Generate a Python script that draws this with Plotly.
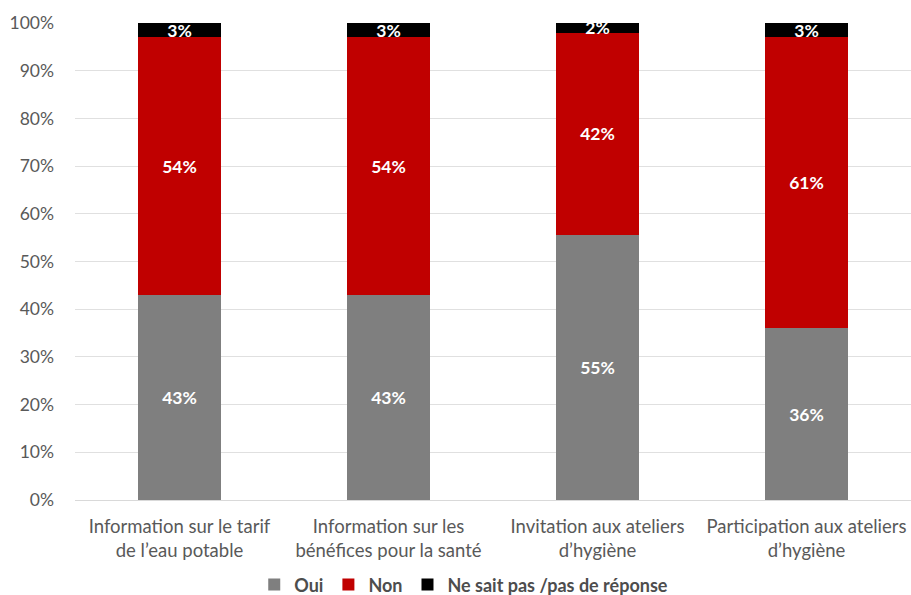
import plotly.graph_objects as go

categories = [
    "Information sur le tarif<br>de l’eau potable",
    "Information sur les<br>bénéfices pour la santé",
    "Invitation aux ateliers<br>d’hygiène",
    "Participation aux ateliers<br>d’hygiène",
]
oui = [43, 43, 55, 36]
non = [54, 54, 42, 61]
nsp = [3, 3, 2, 3]

series = [
    ("Oui", oui, "#7f7f7f"),
    ("Non", non, "#c00000"),
    ("Ne sait pas /pas de réponse", nsp, "#000000"),
]

FONT = "Lato, Calibri, sans-serif"

fig = go.Figure()
for name, vals, color in series:
    fig.add_trace(go.Bar(
        name=name,
        x=categories,
        y=vals,
        marker=dict(color=color, line=dict(width=0)),
        text=[f"{v}%" for v in vals],
        textposition="inside",
        insidetextanchor="middle",
        textangle=0,
        textfont=dict(color="white", size=17.5, family=FONT, weight="bold"),
    ))

fig.update_layout(
    barmode="stack",
    barnorm="percent",
    bargap=0.6,
    width=911,
    height=595,
    margin=dict(l=75, r=0, t=23, b=95, autoexpand=False),
    paper_bgcolor="white",
    plot_bgcolor="white",
    font=dict(family=FONT, color="#595959", size=17.5),
    uniformtext=dict(mode="show", minsize=17.5),
    legend=dict(
        orientation="h",
        traceorder="normal",
        x=0.465, xanchor="center",
        y=-0.178, yanchor="middle",
        font=dict(size=18, color="#4d4d4d", weight="bold"),
        itemwidth=30,
        tracegroupgap=0,
    ),
    showlegend=True,
)
fig.update_yaxes(
    range=[0, 100],
    tickvals=[0, 10, 20, 30, 40, 50, 60, 70, 80, 90, 100],
    ticktext=[f"{v}%" for v in range(0, 101, 10)],
    showgrid=True,
    gridcolor="#e0e0e0",
    gridwidth=1,
    zeroline=False,
    ticklabelstandoff=20,
    tickfont=dict(size=17.5, color="#595959"),
    automargin=False,
    fixedrange=True,
)
fig.update_xaxes(
    showline=True,
    linecolor="#d9d9d9",
    linewidth=1,
    ticklabelstandoff=10,
    tickfont=dict(size=18.5, color="#595959"),
    automargin=False,
)

fig.write_html("out.html")
